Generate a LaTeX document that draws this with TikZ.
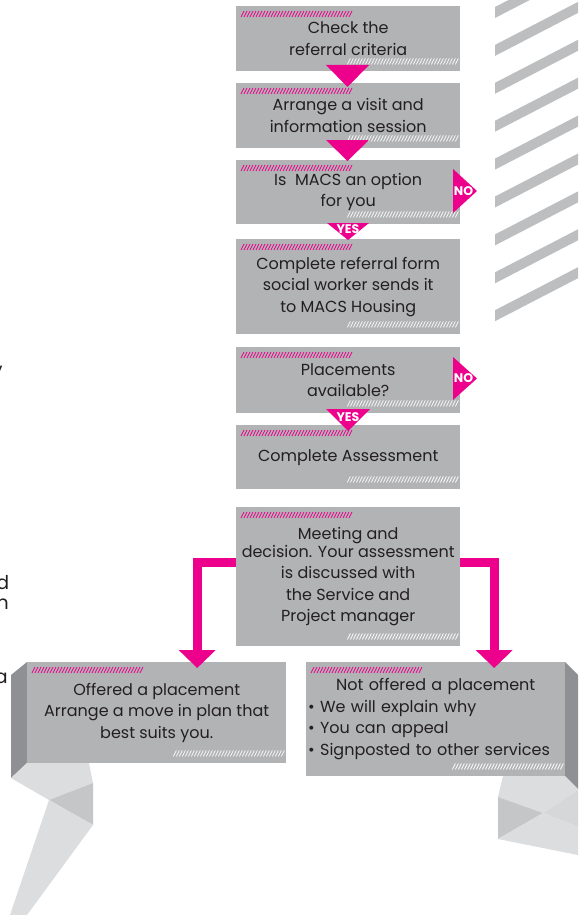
\documentclass[tikz,border=0pt]{standalone}
\usepackage{fontspec}
\setmainfont{Poppins}
\usetikzlibrary{arrows.meta}

\definecolor{pinkc}{HTML}{EC008C}
\definecolor{boxgray}{HTML}{B1B3B5}
\definecolor{sidegray}{HTML}{8E9093}
\definecolor{lightgray}{HTML}{DCDDDF}
\definecolor{lowgray}{HTML}{D6D7D9}
\definecolor{midgray}{HTML}{C5C6C8}
\definecolor{stripegray}{HTML}{BCBEC0}
\definecolor{textc}{HTML}{231F20}

\newcommand\boxfont{\fontsize{16}{21.5}\selectfont}

\tikzset{
  box/.style={fill=boxgray, inner sep=0pt, anchor=north west, align=center,
    text=textc, font=\boxfont, minimum width=224pt},
  wide/.style={minimum width=259pt},
  conn/.style={draw=pinkc, line width=9pt, line join=miter,
    -{Triangle[width=36pt,length=18pt]}},
  tri/.style={fill=pinkc},
  tritext/.style={text=white, font=\bfseries\fontsize{12.5}{12.5}\selectfont, inner sep=0pt},
  edgetext/.style={text=textc, font=\fontsize{19}{19}\selectfont, anchor=base east, inner sep=0pt},
}

% two rows of thin slanted strokes on every box: pink at the top left,
% white at the bottom right
\newcommand\hatches[1]{%
  \foreach \i in {0,...,36}{%
    \draw[pinkc, line width=0.7pt]
      ([xshift={(5+3*\i)*1pt}, yshift=-11pt]#1.north west) -- ++(3,-6);
    \draw[white, line width=0.7pt]
      ([xshift={(-113+3*\i)*1pt}, yshift=7pt]#1.south east) -- ++(3,-6);
  }}

\begin{document}
\begin{tikzpicture}[x=1pt, y=-1pt]
\useasboundingbox (0,0) rectangle (578,915);
\clip (0,0) rectangle (578,915);

% diagonal bands on the right
\foreach \i in {0,...,8}{
  \pgfmathsetmacro\b{18+37.9*\i}
  \fill[stripegray] (495,\b) -- (495,\b-11) -- (578,\b-54) -- (578,\b-43) -- cycle;
}

% folded ribbon under the left outcome box
\fill[sidegray] (11,778) -- (11,675) -- (27,662) -- (27,763) -- cycle;
\fill[lightgray] (11,778) -- (27,763) -- (89,763) -- (93,783) -- (49,800) -- cycle;
\fill[midgray] (49,800) -- (93,783) -- (93,825) -- cycle;
\fill[lightgray] (49,800) -- (93,825) -- (27,915) -- (10,915) -- cycle;

% folded ribbon under the right outcome box
\fill[sidegray] (565,662) -- (578,675) -- (578,789) -- (565,776) -- cycle;
\fill[lightgray] (503,776) -- (565,776) -- (578,789) -- (578,790) -- (543,813) -- (498,797) -- cycle;
\fill[midgray] (498,797) -- (543,813) -- (498,839) -- cycle;
\fill[lowgray] (543,813) -- (578,790) -- (578,827) -- cycle;
\fill[lightgray] (498,839) -- (543,813) -- (578,827) -- (578,855) -- cycle;

% text running in from the left margin
\node[edgetext] (e1) at (3,368) {,};
\node[edgetext] (e2) at (9.5,589) {d};
\node[edgetext] (e3) at (9,609) {n};
\node[edgetext] (e4) at (8,683) {a};

% steps
\node[box, minimum height=65pt] (b1) at (236,6) {Check the\\referral criteria};
\node[box, minimum height=65pt] (b2) at (236,83) {Arrange a visit and\\information session};
\node[box, minimum height=64pt] (b3) at (236,160) {Is\ \ MACS an option\\for you};
\node[box, minimum height=95pt] (b4) at (236,239) {Complete referral form\\social worker sends it\\to MACS Housing};
\node[box, minimum height=66pt] (b5) at (236,347) {Placements\\available?};
\node[box, minimum height=64pt] (b6) at (236,425) {Complete Assessment};
\node[box, minimum height=139pt] (b7) at (236,507)
  {Meeting and\\[-3.5pt]decision. Your assessment\\is discussed with\\the Service and\\Project manager};
\node[box, wide, minimum height=101pt] (offer) at (27,662)
  {Offered a placement\\Arrange a move in plan that\\best suits you.};
\node[box, wide, minimum height=114pt, text width=255pt, align=left] (notoff) at (306,662)
  {\makebox[\linewidth]{Not offered a placement}\\
   • We will explain why\\
   • You can appeal\\
   • Signposted to other services};

\foreach \n in {b1,b2,b3,b4,b5,b6,b7,offer,notoff}{\hatches{\n}}

% arrows between the steps
\fill[tri] (326,65) -- (369,65) -- (347.5,87) -- cycle;
\fill[tri] (326,140) -- (369,140) -- (347.5,161) -- cycle;
\fill[tri] (327,223) -- (369,223) -- (348,240) -- cycle;
\node[tritext] (y1) at (348,229) {YES};
\fill[tri] (453,169) -- (453,213) -- (477,191) -- cycle;
\node[tritext] (n1) at (463.5,191) {NO};
\fill[tri] (453,357) -- (453,400) -- (477,378.5) -- cycle;
\node[tritext] (n2) at (463.5,378.5) {NO};
\fill[tri] (326,409) -- (370,409) -- (348,431) -- cycle;
\node[tritext] (y2) at (348,417) {YES};

% decision outcomes
\draw[conn] ([yshift=14.5pt]b7.west) -| ([xshift=40.5pt,yshift=-6pt]offer.north);
\draw[conn] ([yshift=14.5pt]b7.east) -| ([xshift=58.5pt,yshift=-6pt]notoff.north);
\end{tikzpicture}
\end{document}
